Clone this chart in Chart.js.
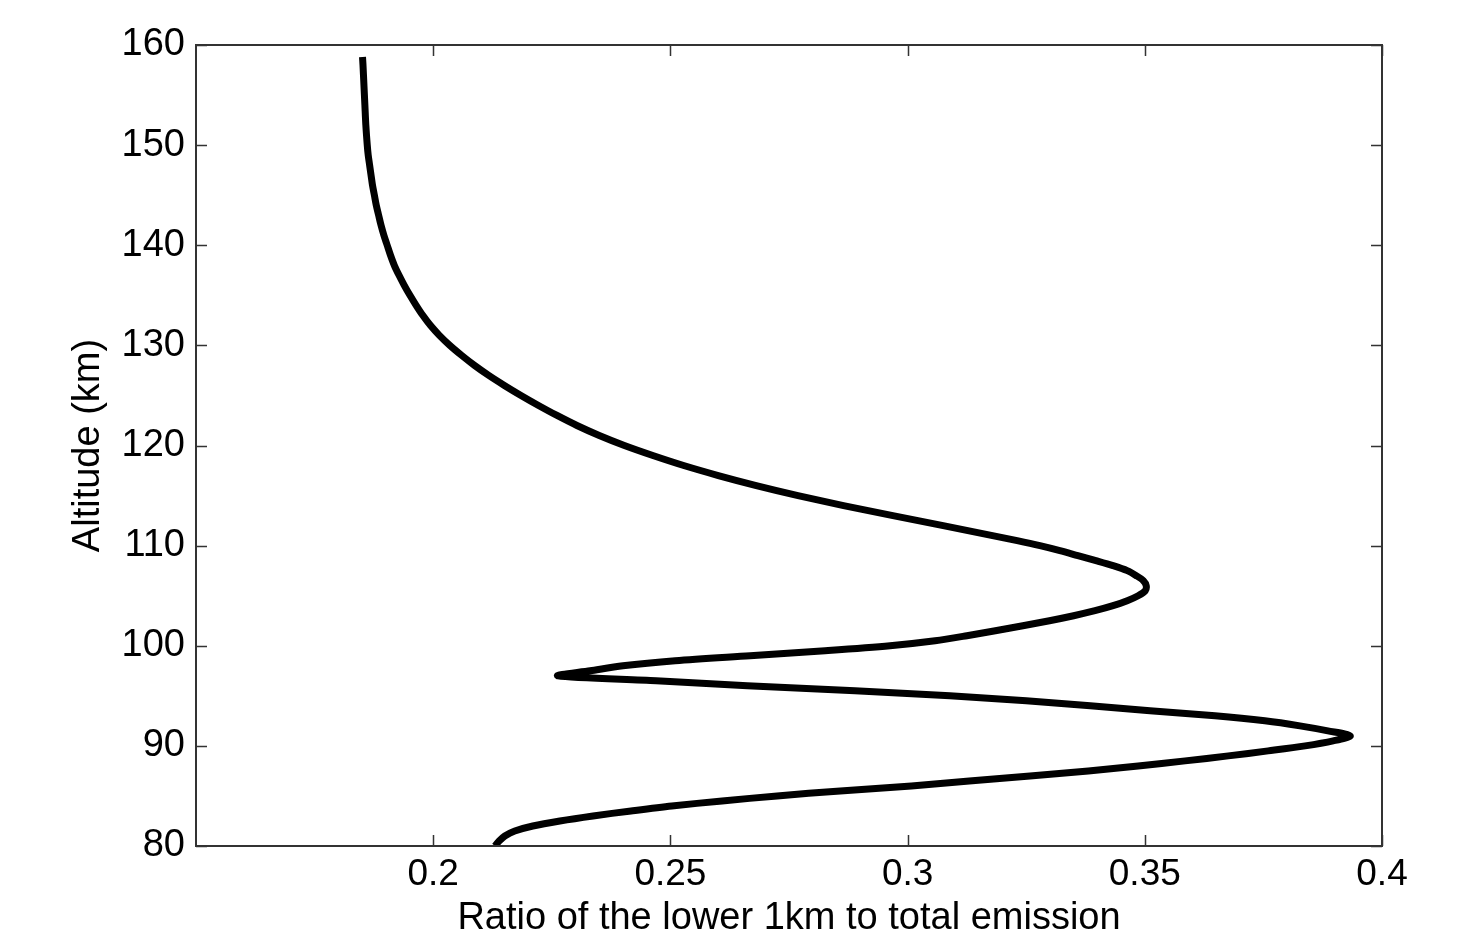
<!DOCTYPE html>
<html>
<head>
<meta charset="utf-8">
<script src="https://cdn.jsdelivr.net/npm/chart.js@4/dist/chart.umd.min.js"></script>
<style>
  html, body { margin: 0; padding: 0; background: #fff; }
  canvas { display: block; }
</style>
</head>
<body>
<canvas id="c" width="1465" height="941"></canvas>
<script>
// Altitude (km)
const altitudes = [
  80, 80.5, 81, 81.5, 82, 82.5, 83, 83.5, 84, 84.5, 85, 85.5, 86, 86.5, 87, 87.5,
  88, 88.5, 89, 89.5, 90, 90.5, 91, 91.5, 92, 92.5, 93, 93.5, 94, 94.5, 95, 95.5,
  96, 96.5, 97, 97.5, 98, 98.5, 99, 99.5, 100, 100.5, 101, 101.5, 102, 102.5, 103,
  103.5, 104, 104.5, 105, 105.5, 106, 106.5, 107, 107.5, 108, 108.5, 109, 109.5,
  110, 110.5, 111, 112, 113, 114, 115, 116, 117, 118, 119, 120, 121, 122, 123, 124,
  125, 126, 127, 128, 129, 130, 131, 132, 133, 134, 135, 136, 137, 138, 139, 140,
  141, 142, 143, 144, 145, 146, 147, 148, 149, 150, 152, 154, 156, 158, 158.8
];
// Ratio of the lower 1km to total emission
const ratios = [
  0.2130, 0.2139, 0.2151, 0.2172, 0.2210, 0.2267, 0.2337, 0.2417, 0.2503, 0.2609,
  0.2725, 0.2858, 0.3008, 0.3130, 0.3258, 0.3381, 0.3486, 0.3585, 0.3676, 0.3760,
  0.3838, 0.3897, 0.3933, 0.3886, 0.3827, 0.3753, 0.3648, 0.3511, 0.3385, 0.3250,
  0.3089, 0.2889, 0.2662, 0.2470, 0.2263, 0.2331, 0.2400, 0.2510, 0.2668, 0.2826,
  0.2963, 0.3058, 0.3125, 0.3185, 0.3243, 0.3299, 0.3350, 0.3395, 0.3433, 0.3463,
  0.3486, 0.3501, 0.3503, 0.3497, 0.3482, 0.3463, 0.3433, 0.3397, 0.3359, 0.3321,
  0.3279, 0.3231, 0.3179, 0.3075, 0.2969, 0.2865, 0.2769, 0.2681, 0.2601, 0.2528,
  0.2463, 0.2403, 0.2350, 0.2303, 0.2261, 0.2222, 0.2185, 0.2150, 0.2117, 0.2087,
  0.2060, 0.2035, 0.2013, 0.1994, 0.1978, 0.1964, 0.1951, 0.1939, 0.1928, 0.1918,
  0.1910, 0.1903, 0.1896, 0.1890, 0.1885, 0.1880, 0.1876, 0.1872, 0.1869, 0.1866,
  0.1863, 0.1861, 0.1858, 0.1856, 0.1854, 0.1852, 0.1851
];
const xTickValues = [0.2, 0.25, 0.3, 0.35, 0.4];
const xTickLabels = ['0.2', '0.25', '0.3', '0.35', '0.4'];
const yTickValues = [80, 90, 100, 110, 120, 130, 140, 150, 160];
const xTitle = 'Ratio of the lower 1km to total emission';
const yTitle = 'Altitude (km)';

const points = altitudes.map((a, i) => ({ x: ratios[i], y: a }));

const frameTicks = {
  id: 'frameTicks',
  afterDraw(chart) {
    const { ctx, chartArea: ca } = chart;
    const xs = chart.scales.x, ys = chart.scales.y;
    const len = 11;
    ctx.save();
    ctx.strokeStyle = '#333';
    ctx.lineWidth = 2;
    ctx.strokeRect(ca.left, ca.top, ca.right - ca.left, ca.bottom - ca.top);
    ctx.lineWidth = 1.5;
    ctx.beginPath();
    xs.ticks.forEach(t => {
      const px = Math.round(xs.getPixelForValue(t.value)) + 0.5;
      ctx.moveTo(px, ca.bottom); ctx.lineTo(px, ca.bottom - len);
      ctx.moveTo(px, ca.top); ctx.lineTo(px, ca.top + len);
    });
    ys.ticks.forEach(t => {
      const py = Math.round(ys.getPixelForValue(t.value)) + 0.5;
      ctx.moveTo(ca.left, py); ctx.lineTo(ca.left + len, py);
      ctx.moveTo(ca.right, py); ctx.lineTo(ca.right - len, py);
    });
    ctx.stroke();
    ctx.restore();
  }
};

new Chart(document.getElementById('c'), {
  type: 'scatter',
  data: {
    datasets: [{
      data: points,
      showLine: true,
      borderColor: '#000',
      backgroundColor: '#000',
      borderWidth: 7,
      borderCapStyle: 'butt',
      borderJoinStyle: 'round',
      pointRadius: 0,
      tension: 0.3,
      fill: false
    }]
  },
  options: {
    responsive: false,
    animation: false,
    devicePixelRatio: 1,
    layout: { padding: { left: 0, right: 83, top: 45, bottom: 0 } },
    plugins: { legend: { display: false }, tooltip: { enabled: false } },
    scales: {
      x: {
        type: 'linear',
        min: 0.15,
        max: 0.4,
        afterBuildTicks: (s) => { s.ticks = xTickValues.map(v => ({ value: v })); },
        afterFit: (s) => { s.height = 95; },
        grid: { display: false, drawTicks: false },
        border: { display: false },
        ticks: {
          autoSkip: false,
          maxRotation: 0,
          padding: 7,
          color: '#000',
          font: { family: "'Liberation Sans', Arial, sans-serif", size: 37 },
          callback: (v) => { const i = xTickValues.findIndex(t => Math.abs(t - v) < 1e-9); return i >= 0 ? xTickLabels[i] : ''; }
        },
        title: {
          display: true,
          text: xTitle,
          color: '#000',
          font: { family: "'Liberation Sans', Arial, sans-serif", size: 38, lineHeight: 1 },
          padding: { top: 0, bottom: 3 }
        }
      },
      y: {
        type: 'linear',
        min: 80,
        max: 160,
        afterBuildTicks: (s) => { s.ticks = yTickValues.map(v => ({ value: v })); },
        afterFit: (s) => { s.width = 196; },
        grid: { display: false, drawTicks: false },
        border: { display: false },
        ticks: {
          padding: 11,
          color: '#000',
          font: { family: "'Liberation Sans', Arial, sans-serif", size: 38 }
        },
        title: {
          display: true,
          text: yTitle,
          color: '#000',
          font: { family: "'Liberation Sans', Arial, sans-serif", size: 38, lineHeight: 1 },
          padding: { top: 70, bottom: 0 }
        }
      }
    }
  },
  plugins: [frameTicks]
});
</script>
</body>
</html>
